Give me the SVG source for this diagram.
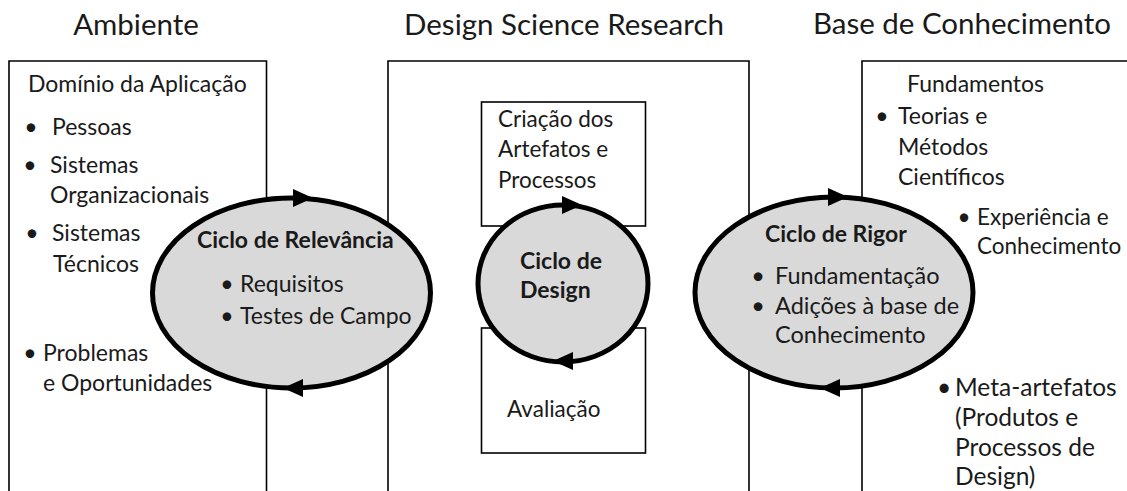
<svg xmlns="http://www.w3.org/2000/svg" width="1127" height="491" viewBox="0 0 1127 491">
<style>
.t{font-family:Lato,"Open Sans","Liberation Sans",sans-serif;font-size:23px;fill:#1a1a1a}
.h{font-size:29.5px;text-anchor:middle}
.b{font-weight:bold;font-size:23px}
.s{font-size:22.5px}
.x{font-size:22.5px}
.m{font-size:24.5px}
.r{font-size:23.5px}
.bu{text-anchor:middle}
.frame{fill:none;stroke:#000;stroke-width:1.6}
.box{fill:#fff;stroke:#000;stroke-width:1.6}
.cyc{fill:#d9d9d9;stroke:#000;stroke-width:5}
.arr{fill:#000}
</style>
<rect width="1127" height="491" fill="#fff"/>
<g id="ambiente">
<text class="t h" x="136" y="35">Ambiente</text>
<path class="frame" d="M9,495V61H266.5V495"/>
<text class="t" x="28" y="92">Domínio da Aplicação</text>
<text class="t bu" x="31" y="135">•</text><text class="t" x="52" y="135">Pessoas</text>
<text class="t bu" x="30" y="173">•</text><text class="t" x="50" y="173">Sistemas</text>
<text class="t" x="50" y="203">Organizacionais</text>
<text class="t bu" x="32" y="241">•</text><text class="t" x="52" y="241">Sistemas</text>
<text class="t" x="53" y="272">Técnicos</text>
<text class="t bu" x="30" y="361">•</text><text class="t" x="43" y="361">Problemas</text>
<text class="t" x="43" y="391">e Oportunidades</text>
</g>
<g id="dsr">
<text class="t h" x="564" y="35">Design Science Research</text>
<path class="frame" d="M388,495V61H749V495"/>
</g>
<g id="base">
<text class="t h" x="962" y="34">Base de Conhecimento</text>
<path class="frame" d="M862,495V61H1130"/>
<text class="t" x="907" y="92">Fundamentos</text>
<text class="t bu" x="882" y="124">•</text><text class="t" x="898" y="124">Teorias e</text>
<text class="t" x="898" y="155">Métodos</text>
<text class="t" x="898" y="185">Científicos</text>
<text class="t x bu" x="964" y="225">•</text><text class="t x" x="977" y="225">Experiência e</text>
<text class="t x" x="977" y="254">Conhecimento</text>
<text class="t m bu" x="944" y="396">•</text><text class="t m" x="955" y="396">Meta-artefatos</text>
<text class="t m" x="955" y="426">(Produtos e</text>
<text class="t m" x="955" y="456">Processos de</text>
<text class="t m" x="955" y="485">Design)</text>
</g>
<g id="criacao">
<rect class="box" x="481.5" y="102" width="164" height="124"/>
<text class="t s" x="498" y="127">Criação dos</text>
<text class="t s" x="498" y="157">Artefatos e</text>
<text class="t s" x="498" y="188">Processos</text>
</g>
<g id="avaliacao">
<rect class="box" x="481.5" y="328" width="164" height="125"/>
<text class="t s" x="507" y="417">Avaliação</text>
</g>
<g id="ciclo-relevancia">
<ellipse class="cyc" cx="291.5" cy="293" rx="139" ry="95"/>
<text class="t b" x="197" y="248">Ciclo de Relevância</text>
<text class="t bu" x="227" y="292">•</text><text class="t" x="240" y="292">Requisitos</text>
<text class="t bu" x="227" y="324">•</text><text class="t" x="240" y="324">Testes de Campo</text>
</g>
<g id="ciclo-design">
<ellipse class="cyc" cx="563" cy="283.5" rx="85" ry="78.5"/>
<text class="t b" x="520" y="269">Ciclo de</text>
<text class="t b" x="520" y="298">Design</text>
</g>
<g id="ciclo-rigor">
<ellipse class="cyc" cx="834" cy="292.5" rx="139" ry="95.5"/>
<text class="t b" x="765" y="242">Ciclo de Rigor</text>
<text class="t r bu" x="758" y="284">•</text><text class="t r" x="775" y="284">Fundamentação</text>
<text class="t r bu" x="758" y="314">•</text><text class="t r" x="775" y="314">Adições à base de</text>
<text class="t r" x="775" y="343">Conhecimento</text>
</g>
<g id="connectors">
<polygon class="arr" points="313,198 293,189 293,207"/>
<polygon class="arr" points="283,388 303,379 303,397"/>
<polygon class="arr" points="582,205 562,196 562,214"/>
<polygon class="arr" points="553,361 573,352 573,370"/>
<polygon class="arr" points="848,197 828,188 828,206"/>
<polygon class="arr" points="820,388 840,379 840,397"/>
</g>
</svg>
